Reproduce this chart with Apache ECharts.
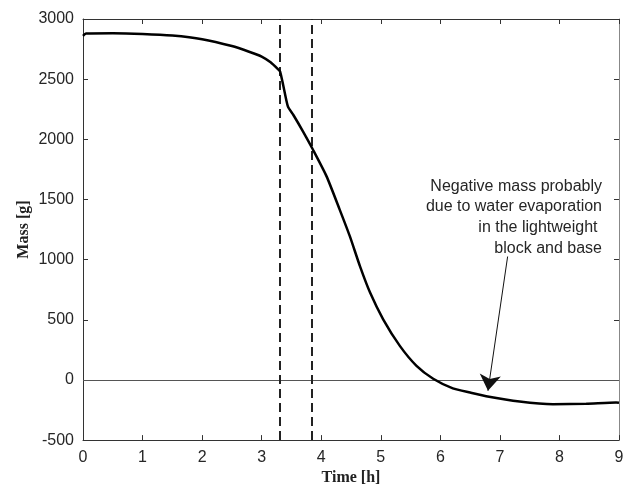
<!DOCTYPE html>
<html>
<head>
<meta charset="utf-8">
<script src="https://cdn.jsdelivr.net/npm/echarts@6/dist/echarts.min.js"></script>
<style>html,body{margin:0;padding:0;background:#fff}#c{width:632px;height:491px}</style>
</head>
<body>
<div id="c"></div>
<script>
var timeH = [0, 0.05, 0.5, 1, 1.5, 2, 2.5, 2.8, 3.0, 3.15, 3.28, 3.31, 3.36, 3.44, 3.53, 3.70, 3.86, 4.09, 4.31, 4.48, 4.65, 4.82, 5.04, 5.32, 5.6, 5.88, 6.21, 6.5, 6.77, 7.33, 7.89, 8.45, 8.95, 9];
var massG = [2860, 2880, 2882, 2876, 2862, 2832, 2775, 2726, 2688, 2640, 2580, 2563, 2453, 2273, 2204, 2060, 1915, 1692, 1416, 1195, 946, 726, 504, 283, 117, 10, -70, -105, -135, -179, -201, -198, -188, -190];
var dashedTimes = [3.31, 3.84];
var arrowFrom = [7.13, 1026];
var arrowTo = [6.80, -90];
var noteLines = ['Negative mass probably', 'due to water evaporation', 'in the lightweight ', 'block and base'];
var xTicks = {min: 0, max: 9, interval: 1};
var yTicks = {min: -500, max: 3000, interval: 500};

var chart = echarts.init(document.getElementById('c'), null, {renderer: 'canvas'});
var points = timeH.map(function (t, i) { return [t, massG[i]]; });
var labelFont = {fontFamily: 'Liberation Sans, Arial, sans-serif', fontSize: 16, color: '#262626',
  formatter: function (v) { return String(v); }};
function axisBase(extra) {
  var o = {
    type: 'value',
    splitLine: {show: false},
    axisLine: {show: true, onZero: false, lineStyle: {color: '#333', width: 1}},
    axisTick: {show: true, inside: true, length: 5, lineStyle: {color: '#333'}}
  };
  for (var k in extra) o[k] = extra[k];
  return o;
}
var option = {
  animation: false,
  backgroundColor: '#fff',
  grid: {left: 83, right: 13, top: 19, bottom: 50},
  xAxis: [
    axisBase({min: xTicks.min, max: xTicks.max, interval: xTicks.interval, position: 'bottom',
      name: 'Time [h]', nameLocation: 'middle', nameGap: 21,
      nameTextStyle: {fontFamily: 'Liberation Serif, Times New Roman, serif', fontWeight: 'bold', fontSize: 16, color: '#222'},
      axisLabel: Object.assign({margin: 9}, labelFont)}),
    axisBase({min: xTicks.min, max: xTicks.max, interval: xTicks.interval, position: 'top',
      axisLabel: {show: false}})
  ],
  yAxis: [
    axisBase({min: yTicks.min, max: yTicks.max, interval: yTicks.interval, position: 'left',
      name: 'Mass [g]', nameLocation: 'middle', nameGap: 51, nameMoveOverlap: false,
      nameTextStyle: {fontFamily: 'Liberation Serif, Times New Roman, serif', fontWeight: 'bold', fontSize: 16, color: '#222'},
      axisLabel: Object.assign({margin: 9}, labelFont)}),
    axisBase({min: yTicks.min, max: yTicks.max, interval: yTicks.interval, position: 'right',
      axisLine: {show: true, onZero: false, lineStyle: {color: '#888', width: 1}},
      axisLabel: {show: false}})
  ],
  series: [
    {
      type: 'line',
      data: points,
      xAxisIndex: 0, yAxisIndex: 0,
      showSymbol: false,
      smooth: 0.2,
      lineStyle: {color: '#000', width: 2.5},
      z: 5,
      markLine: {
        silent: true,
        symbol: 'none',
        animation: false,
        label: {show: false},
        data: [
          {yAxis: 0, lineStyle: {color: '#555', width: 1, type: 'solid'}}
        ].concat(dashedTimes.map(function (t) {
          return {xAxis: t, lineStyle: {color: '#222', width: 2, type: [9, 5]}};
        })).concat([[
          {coord: arrowFrom, symbol: 'none', lineStyle: {color: '#111', width: 1, type: 'solid'}},
          {coord: arrowTo, symbol: 'arrow', symbolSize: 16}
        ]])
      }
    }
  ],
  graphic: [{
    type: 'text',
    x: 602, y: 176,
    style: {
      text: noteLines.join('\n'),
      fontFamily: 'Liberation Sans, Arial, sans-serif',
      fontSize: 16,
      lineHeight: 20.7,
      fill: '#262626',
      align: 'right',
      verticalAlign: 'top'
    }
  }]
};
chart.setOption(option);
</script>
</body>
</html>
